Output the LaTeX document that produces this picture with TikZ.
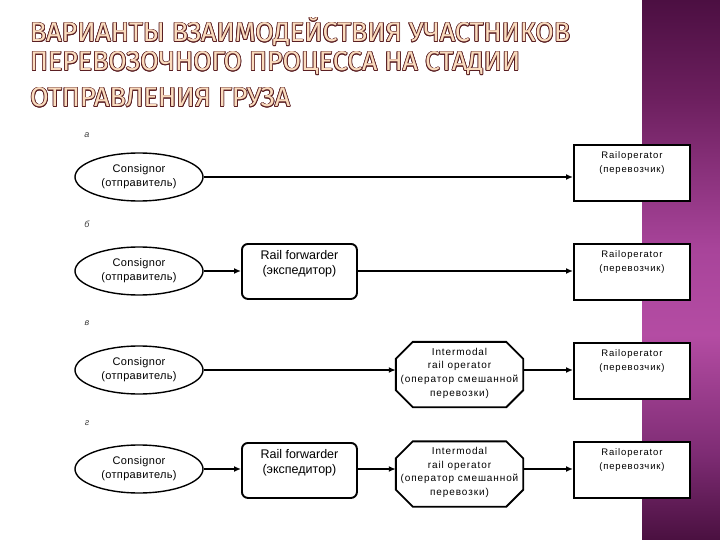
\documentclass[tikz,border=0pt]{standalone}
\usepackage{fontspec}
\usepackage{graphicx}
\setmainfont{Liberation Sans}
\newfontfamily\ttlfont{Fira Sans}
\newfontfamily\spfont[LetterSpace=9]{Liberation Sans}
\newfontfamily\slfont[LetterSpace=3]{Liberation Sans}
\usetikzlibrary{arrows.meta,calc,shapes.geometric}
\definecolor{tfill}{HTML}{FADCBE}
\definecolor{tedge}{HTML}{5A1E22}
\definecolor{bandbot}{HTML}{4A1040}
\definecolor{bandlow}{HTML}{7E2C74}
\definecolor{bandmid}{HTML}{B44CA3}
\definecolor{bandmidb}{HTML}{A8449A}
\definecolor{bandhigh}{HTML}{6C1F5E}
\definecolor{bandtop}{HTML}{4C0F42}
\definecolor{lblgray}{HTML}{404040}
\pgfdeclareverticalshading{bandshade}{100bp}{color(0bp)=(bandbot); color(25bp)=(bandbot); color(33bp)=(bandlow); color(44bp)=(bandmid); color(52bp)=(bandmidb); color(66bp)=(bandhigh); color(75bp)=(bandtop); color(100bp)=(bandtop)}
\newlength\tlw
\newcommand\ttltext[1]{{\ttlfont\fontsize{27}{27}\selectfont #1}}
\newcommand\tA{ВАРИАНТЫ ВЗАИМОДЕЙСТВИЯ УЧАСТНИКОВ}
\newcommand\tB{ПЕРЕВОЗОЧНОГО ПРОЦЕССА НА СТАДИИ}
\newcommand\tC{ОТПРАВЛЕНИЯ ГРУЗА}
\newcommand\measure[3]{\settowidth\tlw{\ttltext{#3}}\pgfmathsetmacro#1{#2/\tlw}\global\let#1#1}
\newcommand\titleline[5]{%
  \foreach \ang in {0,30,...,330}{\node[anchor=base west,inner sep=0,text=tedge] at ($(#2,#3)+(\ang:0.75)$) {\scalebox{#4}[1]{\ttltext{#5}}};}%
  \node[anchor=base west,inner sep=0,text=tfill] (#1) at (#2,#3) {\scalebox{#4}[1]{\ttltext{#5}}};%
}
\newcommand\topbox[4]{\parbox[c][#1][t]{#2}{\centering\rule{0pt}{#3}#4}}
\tikzset{
  ell/.style={draw, fill=white, ellipse, line width=1.4, minimum width=128, minimum height=48, inner sep=0, align=center, font=\slfont\fontsize{11}{14}\selectfont},
  rbox/.style={draw, fill=white, line width=1.9, inner sep=0, font=\spfont\fontsize{9.5}{14}\selectfont},
  fbox/.style={draw, fill=white, line width=1.9, rounded corners=6, inner sep=0, font=\fontsize{12.5}{15}\selectfont},
  obox/.style={inner sep=0, minimum width=127, minimum height=65, align=center, font=\spfont\fontsize{10}{13.7}\selectfont},
  oline/.style={draw, fill=white, line width=1.9},
  arr/.style={-{Latex[length=7pt,width=6pt]}, line width=1.8},
  rowlbl/.style={inner sep=0, text=lblgray, font=\fontsize{9}{9}\selectfont\itshape}
}
\newcommand\octo[1]{%
  \draw[oline] ($(#1.north west)+(17,0)$) -- ($(#1.north east)+(-17,0)$) -- ($(#1.north east)+(0,17)$) -- ($(#1.south east)+(0,-17)$) -- ($(#1.south east)+(-17,0)$) -- ($(#1.south west)+(17,0)$) -- ($(#1.south west)+(0,-17)$) -- ($(#1.north west)+(0,17)$) -- cycle;}
\begin{document}
\measure{\sA}{540}{\tA}\measure{\sB}{490}{\tB}\measure{\sC}{260}{\tC}%
\begin{tikzpicture}[x=1pt,y=-1pt]
\useasboundingbox (0,0) rectangle (720,540);
\fill[white] (0,0) rectangle (720,540);
\shade[shading=bandshade] (642,0) rectangle (720,540);
% title
\titleline{t1}{30}{42}{\sA}{\tA}
\titleline{t2}{30}{71}{\sB}{\tB}
\titleline{t3}{30}{107}{\sC}{\tC}
% row labels
\node[rowlbl] (la) at (87,135) {а};
\node[rowlbl] (lb) at (87,224) {б};
\node[rowlbl] (lc) at (87,323) {в};
\node[rowlbl] (ld) at (87,423) {г};
% row a
\node[ell] (e1) at (139,177) {Consignor\\(отправитель)};
\node[rbox, anchor=north west] (r1) at (573,144) {\topbox{56pt}{116pt}{14pt}{Railoperator\\(перевозчик)}};
\draw[arr] (e1.east) -- (r1.west |- e1.east);
% row b
\node[ell] (e2) at (139,271) {Consignor\\(отправитель)};
\node[fbox, anchor=north west] (f1) at (241,243) {\topbox{55pt}{115pt}{16pt}{Rail forwarder\\(экспедитор)}};
\node[rbox, anchor=north west] (r2) at (573,243) {\topbox{56pt}{116pt}{14pt}{Railoperator\\(перевозчик)}};
\draw[arr] (e2.east) -- (f1.west |- e2.east);
\draw[arr] (f1.east |- e2.east) -- (r2.west |- e2.east);
% row c
\node[ell] (e3) at (139,370) {Consignor\\(отправитель)};
\node[obox] (o1) at (459.5,374.5) {};
\octo{o1}
\node[obox] (o1t) at (459.5,373) {Intermodal\\rail operator\\(оператор смешанной\\перевозки)};
\node[rbox, anchor=north west] (r3) at (573,342) {\topbox{56pt}{116pt}{14pt}{Railoperator\\(перевозчик)}};
\draw[arr] (e3.east) -- (o1.west |- e3.east);
\draw[arr] (o1.east |- e3.east) -- (r3.west |- e3.east);
% row d
\node[ell] (e4) at (139,469) {Consignor\\(отправитель)};
\node[fbox, anchor=north west] (f2) at (241,442) {\topbox{55pt}{115pt}{16pt}{Rail forwarder\\(экспедитор)}};
\node[obox] (o2) at (459.5,474) {};
\octo{o2}
\node[obox] (o2t) at (459.5,472.5) {Intermodal\\rail operator\\(оператор смешанной\\перевозки)};
\node[rbox, anchor=north west] (r4) at (573,441) {\topbox{56pt}{116pt}{14pt}{Railoperator\\(перевозчик)}};
\draw[arr] (e4.east) -- (f2.west |- e4.east);
\draw[arr] (f2.east |- e4.east) -- (o2.west |- e4.east);
\draw[arr] (o2.east |- e4.east) -- (r4.west |- e4.east);
\end{tikzpicture}
\end{document}
